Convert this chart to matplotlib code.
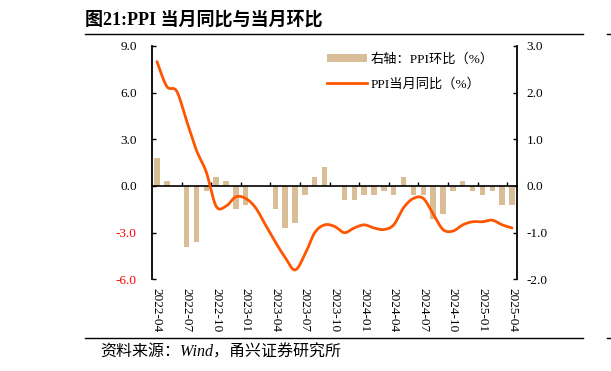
import numpy as np
import matplotlib
matplotlib.use("Agg")
import matplotlib.pyplot as plt
from matplotlib.lines import Line2D
from matplotlib.patches import Patch

months = ["2022-04", "2022-05", "2022-06", "2022-07", "2022-08", "2022-09", "2022-10", "2022-11", "2022-12",
          "2023-01", "2023-02", "2023-03", "2023-04", "2023-05", "2023-06", "2023-07", "2023-08", "2023-09",
          "2023-10", "2023-11", "2023-12", "2024-01", "2024-02", "2024-03", "2024-04", "2024-05", "2024-06",
          "2024-07", "2024-08", "2024-09", "2024-10", "2024-11", "2024-12", "2025-01", "2025-02", "2025-03",
          "2025-04"]
ppi_yoy = [8.0, 6.4, 6.1, 4.2, 2.3, 0.9, -1.3, -1.3, -0.7, -0.8, -1.4, -2.5, -3.6, -4.6, -5.4, -4.4, -3.0,
           -2.5, -2.6, -3.0, -2.7, -2.5, -2.7, -2.8, -2.5, -1.4, -0.8, -0.8, -1.8, -2.8, -2.9, -2.5, -2.3,
           -2.3, -2.2, -2.5, -2.7]
ppi_mom = [0.6, 0.1, 0.0, -1.3, -1.2, -0.1, 0.2, 0.1, -0.5, -0.4, 0.0, 0.0, -0.5, -0.9, -0.8, -0.2, 0.2,
           0.4, 0.0, -0.3, -0.3, -0.2, -0.2, -0.1, -0.2, 0.2, -0.2, -0.2, -0.7, -0.6, -0.1, 0.1, -0.1,
           -0.2, -0.1, -0.4, -0.4]
left_ticks = [-6.0, -3.0, 0.0, 3.0, 6.0, 9.0]
right_ticks = [-2.0, -1.0, 0.0, 1.0, 2.0, 3.0]

title = "图21:PPI 当月同比与当月环比"
source = "资料来源：Wind，甬兴证券研究所"
leg_bar = "右轴：PPI环比（%）"
leg_line = "PPI当月同比（%）"

FAM = ["Liberation Serif", "Noto Sans CJK SC"]
plt.rcParams["font.family"] = FAM

BAR_C = "#D8BD96"
LINE_C = "#FF5500"


def smooth(xs, ys, n=20):
    xs = np.asarray(xs, float); ys = np.asarray(ys, float)
    px = np.concatenate([[xs[0]], xs, [xs[-1]]])
    py = np.concatenate([[ys[0]], ys, [ys[-1]]])
    ox, oy = [], []
    t = np.linspace(0, 1, n, endpoint=False)
    for i in range(1, len(px) - 2):
        p0 = np.array([px[i], py[i]]); p3 = np.array([px[i + 1], py[i + 1]])
        c1 = p0 + (np.array([px[i + 1], py[i + 1]]) - np.array([px[i - 1], py[i - 1]])) / 6
        c2 = p3 - (np.array([px[i + 2], py[i + 2]]) - p0) / 6
        for tt in t:
            b = (1 - tt) ** 3 * p0 + 3 * (1 - tt) ** 2 * tt * c1 + 3 * (1 - tt) * tt ** 2 * c2 + tt ** 3 * p3
            ox.append(b[0]); oy.append(b[1])
    ox.append(xs[-1]); oy.append(ys[-1])
    return ox, oy


fig = plt.figure(figsize=(6.11, 3.71), dpi=100)
ax = fig.add_axes([152 / 611, 1 - 279.3 / 371, 365 / 611, 233.3 / 371])
ax2 = ax.twinx()

x = np.arange(len(months))
ax2.bar(x, ppi_mom, width=0.55, color=BAR_C, zorder=2)
sx, sy = smooth(x, ppi_yoy)
ax.plot(sx, sy, color=LINE_C, lw=2.0, zorder=3, solid_capstyle="round")

ax.set_zorder(ax2.get_zorder() + 1)
ax.patch.set_visible(False)

ax.set_xlim(-0.5, len(months) - 0.5)
ax.set_ylim(-6, 9)
ax2.set_ylim(-2, 3)
ax.set_yticks(left_ticks)
ax.set_yticklabels([f"{v:.1f}" for v in left_ticks])
for lab, v in zip(ax.get_yticklabels(), left_ticks):
    if v < 0:
        lab.set_color("#FF0000")
ax2.set_yticks(right_ticks)
ax2.set_yticklabels([f"{v:.1f}" for v in right_ticks])

ax.tick_params(axis="y", direction="in", length=3, width=1, labelsize=9.5, pad=11)
ax2.tick_params(axis="y", direction="in", length=3, width=1, labelsize=9.5, pad=7)

for s in ["top"]:
    ax.spines[s].set_visible(False)
    ax2.spines[s].set_visible(False)
ax2.spines["bottom"].set_visible(False)
ax2.spines["left"].set_visible(False)
ax.spines["right"].set_visible(False)
ax.spines["left"].set_linewidth(1.3)
ax2.spines["right"].set_linewidth(1.3)
ax.spines["bottom"].set_position(("data", 0))
ax.spines["bottom"].set_linewidth(1.2)
ax.set_xticks(np.arange(2.5, len(months) - 0.5, 3))
ax.tick_params(axis="x", direction="in", length=3, width=1, labelbottom=False)

# category labels at bottom
ax3 = ax.twiny()
ax3.set_xlim(ax.get_xlim())
ax3.xaxis.set_ticks_position("bottom")
ax3.xaxis.set_label_position("bottom")
ax3.set_xticks(x[::3])
ax3.set_xticklabels(months[::3], rotation=-90, fontsize=9.5)
ax3.tick_params(axis="x", length=0, pad=6)
for s in ax3.spines.values():
    s.set_visible(False)

handles = [Patch(facecolor=BAR_C, edgecolor="none"),
           Line2D([0], [0], color=LINE_C, lw=2.0)]
fig.legend(handles, [leg_bar, leg_line], loc="upper left", bbox_to_anchor=(322 / 611, 1 - 48 / 371),
           frameon=False, fontsize=9.5, handlelength=3.0, handleheight=0.55, labelspacing=0.9,
           handletextpad=0.3, borderaxespad=0)

fig.text(85 / 611, 1 - 20 / 371, title, fontsize=13, fontweight="bold", va="center", ha="left")
fig.add_artist(Line2D([85 / 611, 583 / 611], [1 - 34 / 371] * 2, color="black", lw=1.0))
fig.add_artist(Line2D([607 / 611, 1.0], [1 - 34 / 371] * 2, color="black", lw=1.0))
fig.add_artist(Line2D([85 / 611, 583 / 611], [1 - 338 / 371] * 2, color="black", lw=1.0))
fig.add_artist(Line2D([607 / 611, 1.0], [1 - 338 / 371] * 2, color="black", lw=1.0))
fig.text(100 / 611, 1 - 353 / 371, source, fontsize=11.5, fontstyle="italic", va="center", ha="left")

fig.savefig("out.png", dpi=100)
